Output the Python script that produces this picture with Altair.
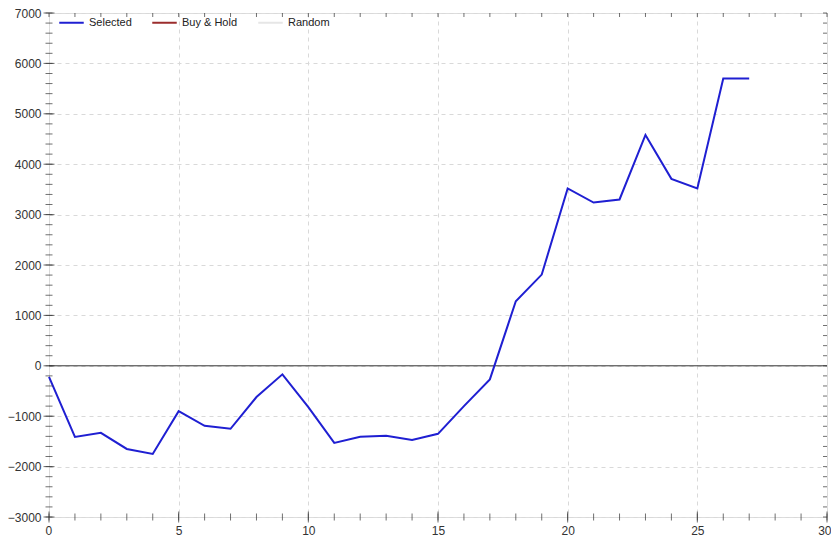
import altair as alt
import pandas as pd

# Series values
steps = list(range(0, 28))
selected = [-220, -1410, -1330, -1650, -1750, -900, -1190, -1250, -620, -170,
            -820, -1530, -1410, -1390, -1470, -1350, -800, -270, 1280, 1810,
            3520, 3240, 3300, 4580, 3710, 3520, 5700, 5700]

series_names = ["Selected", "Buy & Hold", "Random"]
series_colors = ["#1f1fd2", "#9b2d2d", "#e6e6e6"]

x_major = [0, 5, 10, 15, 20, 25, 30]
y_major = [-3000, -2000, -1000, 0, 1000, 2000, 3000, 4000, 5000, 6000, 7000]
x_minor = list(range(0, 31))
y_minor = list(range(-3000, 7001, 200))

X_DOMAIN = [0, 30]
Y_DOMAIN = [-3000, 7000]

df = pd.DataFrame({"step": steps, "value": selected, "series": ["Selected"] * len(steps)})

xs = alt.Scale(domain=X_DOMAIN, nice=False, zero=False)
ys = alt.Scale(domain=Y_DOMAIN, nice=False, zero=False)

common_axis = dict(title=None, grid=True, ticks=False, domain=False, format="d",
                   labelOverlap=False,
                   gridColor="#d9d9d9", gridDash=[4, 4], gridWidth=1,
                   labelFont="Liberation Sans", labelFontSize=12, labelColor="#333")
xaxis = alt.Axis(values=x_major, labelPadding=8, labelFlush=True, labelFlushOffset=4,
                 **common_axis)
yaxis = alt.Axis(values=y_major, labelPadding=8, labelFlush=False, **common_axis)

base = alt.Chart(df)

line = base.mark_line(strokeWidth=2).encode(
    x=alt.X("step:Q", scale=xs, axis=xaxis),
    y=alt.Y("value:Q", scale=ys, axis=yaxis),
    color=alt.Color("series:N",
                    scale=alt.Scale(domain=series_names, range=series_colors),
                    legend=alt.Legend(title=None, orient="none", legendX=9, legendY=-4,
                                      direction="horizontal",
                                      symbolType="stroke", symbolStrokeWidth=2,
                                      symbolSize=600, labelFontSize=11,
                                      labelColor="#222", columnPadding=16,
                                      labelFont="Liberation Sans")),
)

zero = alt.Chart(pd.DataFrame({"z": [0]})).mark_rule(color="#333", strokeWidth=1).encode(
    y=alt.Y("z:Q", scale=ys, axis=yaxis)
)

xmin_df = pd.DataFrame({"t": x_minor, "b": [Y_DOMAIN[0]] * len(x_minor), "top": [Y_DOMAIN[1]] * len(x_minor)})
ymin_df = pd.DataFrame({"t": y_minor, "l": [X_DOMAIN[0]] * len(y_minor), "r": [X_DOMAIN[1]] * len(y_minor)})
xmaj_df = pd.DataFrame({"t": x_major, "b": [Y_DOMAIN[0]] * len(x_major)})
ymaj_df = pd.DataFrame({"t": y_major, "l": [X_DOMAIN[0]] * len(y_major)})

tick_color = "#333"


def tx(field):
    return alt.X(field, scale=xs, axis=xaxis)


def ty(field):
    return alt.Y(field, scale=ys, axis=yaxis)


bx_minor = alt.Chart(xmin_df).mark_tick(orient="vertical", size=7, thickness=1, color=tick_color).encode(
    x=tx("t:Q"), y=ty("b:Q"))
bx_major = alt.Chart(xmaj_df).mark_tick(orient="vertical", size=11, thickness=1, color=tick_color).encode(
    x=tx("t:Q"), y=ty("b:Q"))
tx_minor = alt.Chart(xmin_df).mark_tick(orient="vertical", size=4, thickness=1, color=tick_color, yOffset=2).encode(
    x=tx("t:Q"), y=ty("top:Q"))
ly_minor = alt.Chart(ymin_df).mark_tick(orient="horizontal", size=7, thickness=1, color=tick_color).encode(
    x=tx("l:Q"), y=ty("t:Q"))
ly_major = alt.Chart(ymaj_df).mark_tick(orient="horizontal", size=11, thickness=1, color=tick_color).encode(
    x=tx("l:Q"), y=ty("t:Q"))
ry_minor = alt.Chart(ymin_df).mark_tick(orient="horizontal", size=4, thickness=1, color=tick_color, xOffset=-2).encode(
    x=tx("r:Q"), y=ty("t:Q"))

chart = alt.layer(
    zero, line, bx_minor, bx_major, tx_minor, ly_minor, ly_major, ry_minor
).properties(
    width=778, height=504,
    autosize=alt.AutoSizeParams(type="none"),
    padding={"left": 41, "top": 5, "right": 4, "bottom": 22},
).configure_view(
    stroke="#444", strokeWidth=1
).configure(background="white")

chart.save("out.html", embed_options={"renderer": "svg", "actions": False})
